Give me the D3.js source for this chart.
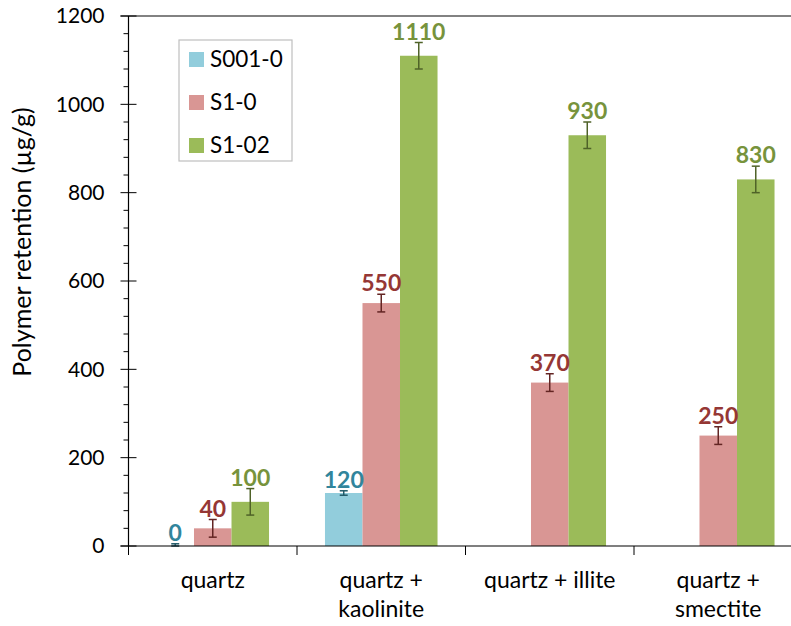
<!DOCTYPE html>
<html>
<head>
<meta charset="utf-8">
<script src="https://cdn.jsdelivr.net/npm/d3@7"></script>
<style>
  body { margin: 0; background: #fff; }
  svg { display: block; font-family: Lato, "Open Sans", sans-serif; }
</style>
</head>
<body>
<svg id="chart" width="791" height="626"></svg>
<script>
// Data
var categories = ["quartz", "quartz + kaolinite", "quartz + illite", "quartz + smectite"]
var tickLabels = [["quartz"], ["quartz +", "kaolinite"], ["quartz + illite"], ["quartz +", "smectite"]]
var seriesNames = ["S001-0", "S1-0", "S1-02"]
var s001_0 = [0, 120, null, null]
var s1_0 = [40, 550, 370, 250]
var s1_02 = [100, 1110, 930, 830]
var err001_0 = [5, 5, null, null]
var err1_0 = [20, 20, 20, 20]
var err1_02 = [30, 30, 30, 30]
var yTicks = [0, 200, 400, 600, 800, 1000, 1200]

var barColors = ["#92cddc", "#d99694", "#9bbb59"]
var labelColors = ["#31859c", "#953735", "#77933c"]
var errColors = ["#215968", "#632523", "#4f6228"]

var svg = d3.select("#chart")
var x0 = 128.5, x1 = 802.5
var y = d3.scaleLinear().domain([0, 1200]).range([546, 16])

var x = d3.scaleBand().domain(categories).range([x0, x1])
  .paddingInner(0.332).paddingOuter(0.166)
var xs = d3.scaleBand().domain(seriesNames).range([0, x.bandwidth()])

var rows = []
var vals = [s001_0, s1_0, s1_02]
var errs = [err001_0, err1_0, err1_02]
categories.forEach((c, i) => {
  seriesNames.forEach((s, j) => {
    if (vals[j][i] != null) rows.push({cat: c, ser: s, j: j, v: vals[j][i], e: errs[j][i]})
  })
})

// top border of plot area
svg.append("line").attr("x1", x0 - 8).attr("x2", 791).attr("y1", y(1200)).attr("y2", y(1200))
  .attr("stroke", "#595959").attr("stroke-width", 1.5)

// bars
svg.append("g").selectAll("rect").data(rows).enter().append("rect")
  .attr("x", d => x(d.cat) + xs(d.ser))
  .attr("width", xs.bandwidth())
  .attr("y", d => y(d.v))
  .attr("height", d => y(0) - y(d.v))
  .attr("fill", d => barColors[d.j])

// error bars
var cx = d => x(d.cat) + xs(d.ser) + xs.bandwidth() / 2
var eb = svg.append("g").selectAll("g").data(rows).enter().append("g")
  .attr("stroke", d => errColors[d.j]).attr("stroke-width", 1.5)
eb.append("line")
  .attr("x1", cx).attr("x2", cx)
  .attr("y1", d => y(d.v + d.e)).attr("y2", d => y(Math.max(0, d.v - d.e)))
eb.append("line")
  .attr("x1", d => cx(d) - 4).attr("x2", d => cx(d) + 4)
  .attr("y1", d => y(d.v + d.e)).attr("y2", d => y(d.v + d.e))
eb.append("line")
  .attr("x1", d => cx(d) - 4).attr("x2", d => cx(d) + 4)
  .attr("y1", d => y(Math.max(0, d.v - d.e))).attr("y2", d => y(Math.max(0, d.v - d.e)))

// value labels
svg.append("g").selectAll("text").data(rows).enter().append("text")
  .attr("x", cx)
  .attr("y", d => y(d.v + d.e) - 3)
  .attr("text-anchor", "middle")
  .attr("font-size", 23).attr("font-weight", "bold")
  .attr("fill", d => labelColors[d.j])
  .text(d => d.v)

// y axis
var yAxis = svg.append("g")
yAxis.append("line").attr("x1", x0).attr("x2", x0).attr("y1", y(0)).attr("y2", y(1200))
  .attr("stroke", "#000").attr("stroke-width", 1.2)
var minor = d3.range(0, 1201, 40).filter(v => v % 200 != 0)
yAxis.selectAll(".minor").data(minor).enter().append("line")
  .attr("x1", x0 - 5).attr("x2", x0).attr("y1", d => y(d)).attr("y2", d => y(d))
  .attr("stroke", "#000")
yAxis.selectAll(".major").data(yTicks).enter().append("line")
  .attr("x1", x0 - 8).attr("x2", x0 + 8).attr("y1", d => y(d)).attr("y2", d => y(d))
  .attr("stroke", "#000")
yAxis.selectAll("text").data(yTicks).enter().append("text")
  .attr("x", x0 - 24).attr("y", d => y(d)).attr("dy", "0.35em")
  .attr("text-anchor", "end").attr("font-size", 21).attr("fill", "#000")
  .text(d => d)

svg.append("text")
  .attr("transform", "translate(31,242) rotate(-90)")
  .attr("text-anchor", "middle").attr("font-size", 25).attr("fill", "#000")
  .text("Polymer retention (µg/g)")

// x axis
var xAxis = svg.append("g")
xAxis.append("line").attr("x1", x0 - 8).attr("x2", x1).attr("y1", y(0)).attr("y2", y(0))
  .attr("stroke", "#000").attr("stroke-width", 1.2)
var bounds = d3.range(categories.length + 1).map(i => x0 + i * x.step())
xAxis.selectAll(".xt").data(bounds).enter().append("line")
  .attr("x1", d => d).attr("x2", d => d).attr("y1", y(0)).attr("y2", y(0) + 9)
  .attr("stroke", "#000")
var xl = xAxis.selectAll(".xl").data(categories).enter().append("text")
  .attr("x", d => x(d) + x.bandwidth() / 2).attr("y", 588)
  .attr("text-anchor", "middle").attr("font-size", 23).attr("fill", "#000")
xl.selectAll("tspan").data((d, i) => tickLabels[i]).enter().append("tspan")
  .attr("x", function() { return this.parentNode.getAttribute("x") })
  .attr("dy", (d, i) => i == 0 ? 0 : 29)
  .text(d => d)

// legend
var lg = svg.append("g").attr("transform", "translate(179,40)")
lg.append("rect").attr("width", 113).attr("height", 121)
  .attr("fill", "#fff").attr("stroke", "#bfbfbf").attr("stroke-width", 1.2)
seriesNames.forEach((s, i) => {
  var yy = 19 + i * 43
  lg.append("rect").attr("x", 10).attr("y", yy - 7).attr("width", 15).attr("height", 15)
    .attr("fill", barColors[i])
  lg.append("text").attr("x", 31).attr("y", yy).attr("dy", "0.35em")
    .attr("font-size", 22.5).attr("fill", "#000").text(s)
})
</script>
</body>
</html>
